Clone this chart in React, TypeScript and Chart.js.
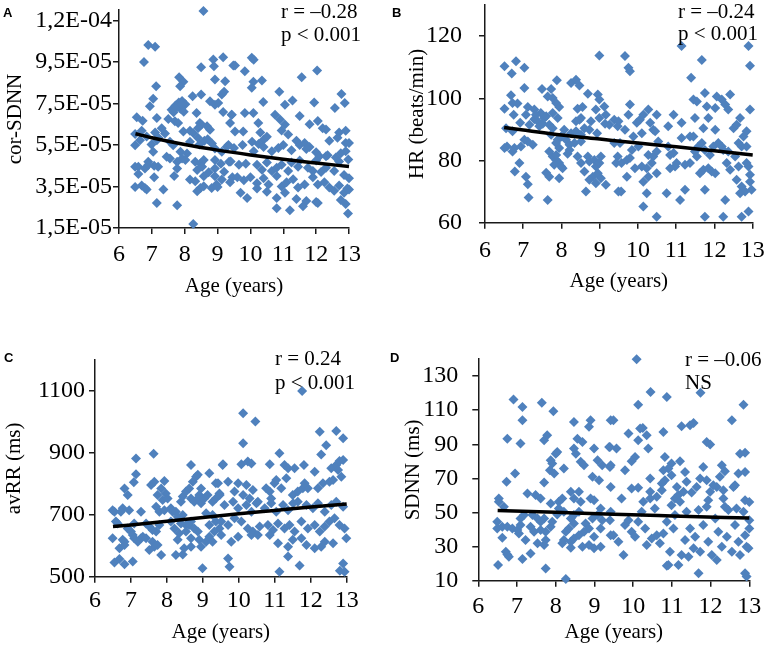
import React, { useEffect, useRef } from 'react';
import { Chart, registerables } from 'chart.js';

Chart.register(...registerables);

const SERIF = '"Liberation Serif", "Times New Roman", serif';
const SANS = '"Liberation Sans", Arial, sans-serif';

const AGE_TICKS = [6, 7, 8, 9, 10, 11, 12, 13];

// ---------- Panel A: cor-SDNN (values in units of 1E-05) ----------
const A_Y_TICKS = [1.5, 3.5, 5.5, 7.5, 9.5, 11.5];
const A_Y_LABELS = ['1,5E-05', '3,5E-05', '5,5E-05', '7,5E-05', '9,5E-05', '1,2E-04'];
const A_POINTS: [number, number][] = [
  [8.57, 11.95], [6.89, 10.31], [7.10, 10.23], [6.76, 9.50], [8.50, 9.24], [8.87, 9.62], [9.17, 9.73], [8.89, 9.29], [9.48, 9.33],
  [7.83, 8.76], [7.96, 8.54], [7.86, 8.33], [7.13, 8.33], [8.92, 8.65], [9.23, 8.57], [7.04, 7.72], [6.94, 7.36], [8.24, 7.84], [8.50, 7.93], [9.13, 7.93], [9.20, 8.06], [8.77, 7.60], [8.92, 7.44], [9.02, 7.52],
  [7.60, 7.20], [7.72, 7.40], [7.82, 7.55], [7.92, 7.62], [8.02, 7.46], [7.87, 7.24], [7.66, 7.08], [7.97, 7.10], [7.75, 7.30], [7.90, 7.45],
  [6.54, 6.83], [6.72, 6.67], [7.15, 6.80], [7.50, 6.75], [7.70, 6.64], [7.80, 6.56], [8.36, 7.04], [8.46, 6.56], [8.51, 6.48], [8.41, 6.32], [8.68, 6.40], [8.77, 6.23], [9.17, 7.09], [9.43, 6.96], [9.38, 6.56],
  [6.49, 6.03], [6.69, 6.19], [6.84, 5.91], [7.10, 6.10], [7.20, 5.85], [7.40, 6.05], [7.30, 6.30], [7.96, 6.15], [8.16, 6.19], [8.26, 6.07], [8.40, 5.85], [8.45, 5.52], [8.60, 5.70], [8.70, 5.78],
  [6.49, 5.49], [6.64, 5.73], [6.99, 5.52], [7.15, 5.73], [7.55, 5.65], [7.65, 5.49], [7.87, 5.17], [8.07, 5.09], [7.92, 4.85], [8.16, 5.65], [8.83, 5.57], [8.92, 5.33], [9.13, 5.17], [9.28, 5.41],
  [7.04, 5.17], [6.89, 4.69], [7.45, 4.93], [7.55, 4.85], [6.49, 4.45], [6.59, 4.45], [6.79, 4.37], [6.89, 4.53], [7.19, 4.45], [7.07, 4.50], [7.77, 4.69], [8.02, 4.77], [7.77, 4.37], [8.32, 4.69], [8.48, 4.61], [8.58, 4.77], [8.38, 4.29], [8.53, 4.45], [8.92, 4.77], [8.92, 4.37], [9.10, 4.60], [9.20, 4.21], [9.35, 4.69], [9.45, 3.95], [9.38, 3.70],
  [6.59, 4.10], [7.07, 3.94], [7.68, 4.00], [8.16, 3.83], [8.32, 3.75], [8.58, 3.99], [8.73, 4.18], [8.92, 3.99], [8.97, 3.59], [9.13, 3.83],
  [6.49, 3.47], [6.69, 3.55], [6.79, 3.43], [6.84, 3.35], [7.35, 3.35], [8.48, 3.43], [8.58, 3.51], [8.38, 3.27], [8.82, 3.43], [9.00, 3.47], [7.15, 2.70], [7.77, 2.60], [8.26, 1.69],
  [10.04, 9.70], [10.10, 9.60], [9.53, 9.33], [9.83, 9.05], [10.09, 8.54], [10.35, 8.60], [10.04, 8.25], [11.56, 8.76], [12.03, 9.08], [10.88, 8.06], [10.39, 7.57], [11.05, 7.44], [11.28, 7.64], [11.94, 7.55], [12.77, 7.96], [12.87, 7.52], [12.57, 7.28],
  [9.43, 6.96], [9.83, 7.04], [10.09, 7.04], [10.24, 6.56], [10.75, 6.96], [10.90, 6.72], [11.05, 6.48], [11.50, 6.90], [11.80, 6.50], [12.05, 6.65], [12.20, 6.30], [12.30, 6.25], [12.70, 6.10], [12.90, 6.18],
  [9.53, 6.15], [9.78, 6.15], [10.30, 6.10], [10.50, 5.90], [10.40, 5.75], [10.95, 6.20], [11.15, 6.00], [11.40, 5.70], [11.50, 5.50], [11.65, 5.60], [11.80, 5.40], [12.40, 5.70], [12.65, 5.85], [12.90, 5.60], [12.90, 5.20], [12.75, 5.10],
  [9.33, 5.50], [9.50, 5.35], [9.76, 5.50], [10.05, 5.65], [10.10, 5.20], [10.25, 5.55], [10.40, 5.40], [10.65, 5.20], [10.85, 5.35], [11.00, 5.50], [11.25, 5.25], [11.70, 5.30], [12.00, 5.15], [12.10, 4.95], [12.35, 5.00], [12.60, 4.90], [12.98, 4.80],
  [9.40, 4.70], [9.65, 4.55], [9.86, 4.60], [10.20, 4.55], [10.35, 4.30], [10.50, 4.65], [10.65, 4.25], [10.80, 4.40], [10.95, 4.55], [11.15, 4.25], [11.25, 4.65], [11.45, 4.45], [11.50, 4.75], [11.75, 4.40], [11.90, 4.25], [12.00, 4.75], [12.15, 4.20], [12.30, 4.40], [12.55, 4.25], [12.70, 4.70], [12.85, 4.05],
  [9.60, 3.95], [9.80, 3.80], [10.00, 3.95], [10.20, 3.65], [10.40, 3.90], [10.55, 3.60], [10.80, 4.00], [10.95, 3.50], [11.10, 3.70], [11.30, 3.85], [11.45, 3.45], [11.65, 3.60], [11.90, 3.95], [12.05, 3.60], [12.25, 3.70], [12.40, 3.45], [12.55, 3.30], [12.70, 3.55], [12.85, 3.20],
  [9.70, 3.20], [9.90, 2.95], [10.20, 3.40], [10.50, 3.25], [10.80, 2.95], [11.05, 3.20], [11.40, 2.90], [11.70, 2.80], [12.05, 2.70], [12.75, 2.85], [12.90, 2.65], [12.95, 3.40], [10.80, 2.45], [11.20, 2.35], [11.60, 2.55], [12.97, 2.20], [12.00, 2.75], [13.00, 3.35], [13.00, 3.90], [13.00, 5.60], [12.30, 4.95],
];
const A_TREND: [number, number][] = [
  [6.5, 6.04], [7, 5.85], [8, 5.52], [9, 5.25], [10, 5.02], [11, 4.81], [12, 4.63], [13, 4.46],
];

// ---------- Panel B: HR (beats/min) ----------
const B_Y_TICKS = [60, 80, 100, 120];
const B_POINTS: [number, number][] = [
  [6.51, 110.3], [6.81, 111.9], [7.03, 109.8], [6.70, 108.0], [7.03, 103.3], [6.68, 101.0], [6.51, 96.6], [6.72, 98.5], [6.85, 98.3], [6.75, 94.7],
  [7.12, 97.2], [7.29, 96.4], [7.07, 94.7], [6.92, 92.1], [6.55, 90.4], [6.72, 89.4], [6.575, 84.5], [6.51, 84.0], [6.77, 84.0], [6.72, 82.9], [6.94, 84.5],
  [6.90, 79.2], [6.78, 76.5], [7.07, 74.8], [7.12, 72.4], [7.14, 68.1], [7.16, 91.5], [7.29, 93.3], [7.38, 92.6], [7.42, 91.0], [7.51, 91.8], [7.55, 93.7], [7.46, 95.3], [7.33, 94.7],
  [7.12, 86.1], [7.25, 85.1], [7.03, 86.7], [7.49, 103.0], [7.73, 103.0], [7.64, 100.6], [7.77, 100.1], [7.88, 105.8], [7.86, 98.5], [7.94, 97.2], [7.77, 95.3], [7.60, 94.2], [7.90, 93.7],
  [7.68, 91.5], [7.77, 90.4], [7.73, 88.3], [7.90, 86.7], [7.86, 85.6], [7.94, 84.0], [7.68, 82.9], [7.77, 81.3], [7.86, 80.2], [7.94, 79.2], [7.99, 78.1], [7.81, 78.6],
  [7.60, 76.1], [7.68, 74.8], [7.94, 74.3], [7.64, 67.3], [8.25, 104.9], [8.38, 106.0], [8.47, 104.1], [8.69, 101.5], [8.42, 96.6], [8.55, 97.2], [8.95, 101.2], [8.99, 99.6],
  [8.07, 89.9], [8.25, 88.8], [8.38, 89.4], [8.51, 88.3], [8.60, 90.4], [8.47, 93.1], [8.51, 93.7], [8.38, 92.6], [8.77, 92.6], [8.90, 96.4], [9.12, 97.4], [9.16, 94.7], [8.99, 93.7], [9.14, 91.8], [8.93, 88.8],
  [7.99, 87.7], [8.12, 86.7], [8.21, 85.1], [8.34, 85.6], [8.51, 86.1], [8.73, 89.9], [7.86, 81.8], [8.16, 82.2], [8.42, 81.3], [8.51, 79.2], [8.69, 81.3], [8.60, 76.5], [8.03, 77.5], [8.21, 83.4],
  [8.73, 79.7], [8.86, 80.2], [8.90, 78.1], [8.99, 79.2], [9.03, 81.3], [8.82, 74.8], [8.90, 72.7], [8.95, 75.9], [9.03, 74.3], [8.73, 73.8], [8.64, 70.0], [8.99, 113.8],
  [9.25, 91.5], [9.38, 93.1], [9.47, 91.0], [9.38, 85.6], [9.47, 81.3], [9.43, 79.2], [9.16, 72.2], [9.56, 70.0],
  [9.66, 113.6], [9.75, 109.8], [9.79, 108.7], [11.14, 116.8], [11.67, 112.3], [11.39, 106.6], [12.89, 116.8], [12.93, 110.5], [11.75, 101.7],
  [9.79, 98.0], [10.27, 96.4], [10.49, 94.7], [10.93, 94.7], [11.45, 99.6], [11.54, 99.0], [11.80, 97.4], [12.02, 96.9], [12.06, 100.6], [12.19, 99.6], [12.41, 101.2], [12.28, 98.0], [12.36, 96.4], [12.93, 96.4],
  [9.49, 92.6], [9.75, 94.7], [9.97, 92.1], [10.05, 93.1], [10.14, 94.7], [10.32, 92.1], [10.40, 89.9], [10.79, 91.0], [11.14, 92.1], [11.49, 93.7], [11.71, 90.4], [11.45, 87.7], [11.84, 93.7], [12.02, 89.9],
  [12.50, 90.4], [12.67, 93.7], [12.84, 89.4], [12.58, 91.5], [12.76, 87.7], [12.71, 84.5],
  [9.66, 89.9], [9.88, 87.7], [10.10, 88.8], [10.45, 89.4], [10.53, 86.1], [9.53, 85.6], [9.84, 83.4], [10.01, 84.5], [10.27, 81.8], [10.40, 81.3], [10.49, 82.9], [10.79, 84.5], [10.84, 81.8], [10.93, 82.4],
  [11.14, 87.2], [11.36, 87.7], [11.49, 82.9], [11.58, 84.5], [11.67, 85.6], [11.75, 83.4], [11.88, 81.8], [11.97, 84.5], [12.10, 85.6], [12.19, 84.5], [12.23, 83.4], [12.36, 82.9], [12.54, 81.3], [12.63, 85.6], [12.84, 84.5],
  [9.57, 79.2], [9.71, 80.2], [9.79, 80.8], [9.92, 77.5], [10.10, 78.1], [10.23, 77.5], [10.36, 79.2], [10.84, 77.5], [10.97, 78.1], [11.01, 79.2], [11.23, 78.6], [11.36, 79.2], [11.54, 81.3],
  [11.62, 75.9], [11.71, 77.0], [11.84, 77.5], [11.93, 76.5], [12.02, 75.9], [12.32, 79.2], [12.41, 77.0], [12.63, 78.1], [12.84, 79.2], [12.89, 78.1], [12.93, 75.4], [10.49, 75.9], [9.71, 74.8], [10.27, 74.8],
  [10.14, 73.2], [12.58, 73.8], [12.71, 71.6], [12.80, 70.0], [9.49, 70.0], [10.23, 69.5], [10.75, 69.5], [11.23, 70.6], [11.75, 70.6], [12.67, 69.5], [12.93, 73.2], [12.97, 70.6],
  [11.10, 67.3], [12.28, 67.3], [10.14, 65.2], [10.49, 61.9], [11.75, 61.9], [12.23, 61.9], [12.71, 61.9], [12.89, 63.6],
];
const B_TREND: [number, number][] = [
  [6.5, 90.6], [7, 89.8], [8, 88.2], [9, 86.9], [10, 85.6], [11, 84.4], [12, 83.1], [13, 81.8],
];

// ---------- Panel C: avRR (ms) ----------
const C_Y_TICKS = [500, 700, 900, 1100];
const C_POINTS: [number, number][] = [
  [7.14, 882], [7.63, 897], [7.14, 831], [7.08, 805], [6.82, 785], [6.91, 764],
  [6.49, 715], [6.54, 710], [6.77, 721], [6.72, 710], [6.95, 715], [6.58, 678], [6.63, 672], [6.91, 656], [7.00, 646], [7.09, 672], [7.28, 710],
  [6.49, 624], [6.77, 619], [6.82, 613], [6.68, 592], [6.82, 602], [7.05, 635], [7.09, 624], [7.19, 613], [7.28, 624],
  [6.54, 546], [6.68, 557], [6.82, 540], [7.05, 549], [7.56, 796], [7.65, 807], [7.93, 809], [7.84, 785],
  [7.74, 764], [7.97, 769], [7.88, 748], [8.02, 753], [7.70, 726], [7.79, 710], [7.93, 715], [8.11, 721],
  [7.42, 672], [7.51, 662], [7.60, 651], [7.70, 646], [7.79, 667], [7.33, 629], [7.42, 624], [7.60, 613], [7.65, 597], [7.74, 602], [7.84, 570], [7.51, 586],
  [8.16, 710], [8.25, 710], [8.30, 694], [8.44, 699], [8.53, 667], [8.11, 678], [8.21, 656], [8.34, 640], [8.39, 672], [8.53, 646], [8.62, 667], [8.30, 619],
  [8.25, 570], [8.44, 572], [8.48, 592], [8.67, 597], [8.39, 742], [8.44, 759], [8.53, 775], [8.62, 785],
  [8.72, 807], [8.81, 823], [8.86, 829], [8.95, 785], [8.90, 764], [8.67, 753], [8.67, 861], [9.18, 834], [9.36, 802],
  [8.76, 742], [8.86, 753], [8.95, 737], [9.04, 753], [9.13, 764], [9.27, 742], [9.36, 753], [9.46, 769],
  [8.67, 678], [8.76, 656], [8.86, 646], [9.09, 705], [9.18, 667], [9.27, 699], [9.36, 678], [9.46, 656],
  [8.67, 624], [8.90, 619], [8.95, 597], [9.09, 613], [9.18, 629], [9.27, 613], [9.32, 646], [8.99, 527], [9.55, 861],
  [11.76, 1100], [10.12, 1028], [10.46, 1001], [10.12, 931], [11.13, 899], [12.25, 968], [12.71, 971], [12.90, 947], [12.43, 925], [12.29, 895],
  [9.56, 863], [10.07, 863], [10.25, 872], [10.35, 866], [10.86, 863], [11.27, 861], [11.37, 850], [11.55, 850], [11.81, 861],
  [12.11, 839], [12.57, 850], [12.71, 861], [12.80, 874], [12.90, 877], [9.42, 802], [9.70, 807], [9.98, 802], [10.21, 796], [9.47, 764],
  [9.88, 775], [10.12, 764], [10.30, 753], [10.39, 780], [10.53, 742], [10.76, 786], [10.86, 775], [10.90, 753], [10.99, 802], [11.04, 812], [11.18, 786],
  [11.32, 818], [11.50, 764], [11.64, 775], [11.78, 786], [11.92, 786], [11.83, 802], [12.20, 786], [12.34, 802], [12.52, 807], [12.62, 812], [12.76, 845], [12.85, 823],
  [9.60, 732], [9.84, 742], [9.98, 721], [10.21, 732], [10.35, 710], [10.49, 737], [10.72, 721], [10.90, 737], [11.04, 710], [11.23, 732], [11.37, 715], [11.51, 737],
  [11.64, 742], [11.88, 732], [12.06, 721], [12.20, 737], [12.39, 710], [12.57, 732], [12.71, 742], [12.90, 726],
  [9.51, 678], [9.70, 667], [9.88, 689], [10.07, 678], [10.25, 656], [10.39, 646], [10.58, 662], [10.81, 667], [10.95, 651], [11.09, 672], [11.27, 656], [11.41, 667], [11.55, 646],
  [11.74, 678], [11.92, 656], [12.11, 667], [12.25, 646], [12.39, 662], [12.52, 678], [12.66, 689], [12.80, 667], [12.94, 656],
  [9.51, 635], [9.79, 613], [9.98, 629], [10.35, 635], [10.53, 635], [10.86, 635], [11.09, 608], [11.37, 597], [11.50, 619], [11.74, 624], [11.88, 602], [12.11, 592], [12.29, 597], [12.39, 613], [12.62, 608], [12.99, 624],
  [9.70, 559], [9.74, 532], [11.37, 565], [11.69, 536], [11.13, 516], [12.90, 543], [12.94, 516], [12.81, 519],
];
const C_TREND: [number, number][] = [
  [6.5, 662], [7, 667], [8, 679], [9, 691], [10, 703], [11, 714], [12, 725], [13, 735],
];

// ---------- Panel D: SDNN (ms) ----------
const D_Y_TICKS = [10, 30, 50, 70, 90, 110, 130];
const D_POINTS: [number, number][] = [
  [6.91, 116.3], [7.14, 111.9], [7.64, 114.4], [7.94, 109.3], [7.14, 104.1], [6.75, 93.3], [7.09, 90.4], [7.70, 92.3], [7.78, 95.3],
  [8.00, 84.5], [8.04, 85.5], [7.87, 80.6], [7.91, 78.7], [7.96, 72.8], [7.85, 74.8], [6.95, 72.8], [6.73, 68.0], [7.70, 67.6],
  [7.27, 61.1], [7.48, 60.2], [7.61, 58.2], [6.53, 58.2], [6.53, 56.3], [6.66, 53.3], [7.87, 55.3], [8.08, 56.3], [8.17, 58.2], [8.08, 52.4], [8.21, 50.4], [8.04, 48.8],
  [7.09, 46.5], [7.18, 48.5], [7.40, 48.5], [7.53, 46.5], [7.70, 46.5], [7.61, 44.5], [6.49, 44.5], [6.49, 40.6], [6.62, 41.6], [6.75, 41.6], [6.88, 40.6], [7.01, 39.7], [7.09, 42.6], [7.05, 37.7],
  [7.35, 41.6], [7.44, 38.7], [7.61, 39.7], [7.74, 38.7], [7.87, 41.6], [7.91, 44.5], [7.74, 33.8], [7.70, 30.9], [7.53, 31.9], [7.22, 33.8], [6.62, 35.2],
  [6.71, 27.0], [6.75, 25.4], [6.79, 24.0], [7.14, 22.7], [7.35, 26.0], [6.51, 19.2], [7.74, 17.2], [8.26, 11.0],
  [8.39, 62.1], [8.60, 62.1], [8.47, 58.2], [8.645, 56.3], [8.21, 75.8], [8.52, 84.5], [8.47, 87.5], [8.645, 79.7], [8.73, 77.7], [8.47, 103.1], [8.56, 93.3], [8.69, 91.4],
  [8.90, 104.1], [8.86, 100.2], [8.99, 87.5], [9.08, 80.6], [9.20, 77.7], [9.12, 68.9], [8.95, 70.9], [8.90, 58.2], [8.99, 57.2], [9.16, 52.4], [8.95, 46.5], [9.20, 45.5],
  [8.99, 35.8], [8.86, 30.9], [8.99, 29.0], [9.16, 29.9], [9.42, 104.1], [9.38, 88.4], [9.42, 77.7], [9.42, 65.0], [9.42, 50.4], [9.42, 36.7], [9.16, 40.6], [9.08, 48.5],
  [8.77, 43.6], [8.73, 38.7], [8.86, 40.6], [8.60, 36.7], [8.39, 29.3], [8.69, 29.9], [8.21, 33.8], [8.17, 31.9], [8.39, 32.9], [8.47, 34.8], [8.26, 38.7], [8.34, 40.6], [8.47, 43.6], [8.39, 46.5], [8.47, 48.5], [8.60, 50.4],
  [10.09, 139.8], [10.45, 120.6], [10.87, 117.7], [11.74, 120.2], [10.13, 113.2], [12.85, 113.2], [9.49, 104.1], [12.55, 104.1],
  [11.25, 100.5], [11.47, 101.1], [11.56, 102.5], [9.88, 96.3], [10.18, 99.2], [10.25, 99.6], [10.35, 95.3], [10.78, 97.2],
  [10.13, 92.3], [10.39, 87.5], [9.57, 87.5], [9.40, 88.4], [11.90, 91.4], [11.99, 89.8], [12.76, 84.5], [12.89, 85.1],
  [10.05, 82.6], [9.96, 80.1], [10.82, 82.6], [11.21, 80.1], [9.79, 74.8], [9.40, 76.7], [10.99, 78.7], [10.91, 75.8], [10.78, 74.8], [11.81, 76.7], [12.29, 77.7], [12.37, 74.2], [12.72, 72.8], [12.89, 73.8],
  [10.44, 69.9], [10.82, 68.9], [10.74, 67.0], [11.34, 73.8], [11.38, 68.0], [11.73, 69.9], [11.90, 68.9], [12.24, 70.9],
  [9.96, 64.1], [10.13, 64.5], [9.70, 58.2], [10.44, 62.1], [10.74, 63.1], [11.08, 58.2], [11.17, 60.2], [11.30, 62.1], [11.51, 61.7], [11.94, 57.2], [12.16, 65.0], [12.07, 66.0], [12.33, 63.1], [12.63, 66.0], [12.59, 65.0], [12.89, 57.2],
  [10.61, 59.2], [11.13, 65.0], [11.64, 65.0], [10.99, 71.9], [11.99, 62.1], [12.33, 58.2],
  [9.40, 45.5], [9.49, 36.7], [9.62, 32.8], [9.75, 25.0], [9.79, 42.6], [9.88, 45.5], [9.96, 38.7], [10.05, 35.8], [10.13, 44.5], [10.22, 50.4], [10.26, 56.3], [10.31, 40.6], [10.35, 30.9],
  [10.44, 58.2], [10.48, 34.8], [10.56, 52.4], [10.61, 36.7], [10.69, 31.9], [10.78, 37.7], [10.87, 44.5], [10.91, 19.2], [10.95, 27.0], [10.99, 54.3], [11.04, 40.6], [11.08, 48.5],
  [11.17, 19.2], [11.21, 56.3], [11.25, 25.0], [11.34, 33.8], [11.38, 50.4], [11.47, 40.6], [11.56, 29.0], [11.60, 35.8], [11.69, 51.4], [11.69, 14.3], [11.73, 27.0], [11.81, 42.6],
  [11.90, 53.3], [11.94, 32.8], [12.03, 25.0], [12.12, 46.5], [12.20, 38.7], [12.29, 29.9], [12.37, 53.3], [12.42, 35.8], [12.46, 51.4], [12.55, 27.0], [12.63, 42.6], [12.67, 52.4],
  [12.72, 32.8], [12.76, 25.0], [12.85, 50.4], [12.89, 36.7], [12.89, 14.3], [12.93, 29.9], [12.93, 12.4], [10.87, 18.8], [12.16, 22.1], [11.43, 24.1],
  [13.00, 56.2], [13.00, 45.5], [13.00, 40.6], [12.98, 29.0],
];
const D_TREND: [number, number][] = [
  [6.5, 51.2], [8, 50.1], [9.5, 49.0], [11, 48.0], [13, 46.7],
];

type Panel = {
  letter: string;
  left: number; top: number; width: number; height: number;
  yAxisW: number; xAxisH: number; padTop: number; padRight: number;
  yMin: number; yMax: number; yTicks: number[]; yLabels: string[] | null;
  yTitle: string; yTitlePad: number; yTickPad: number;
  xTickPad: number; xTitlePad: number;
  points: [number, number][]; trend: [number, number][];
  notes: string[]; noteX: number; noteY: number[];
  letterX: number; letterY: number;
};

const PANELS: Panel[] = [
  {
    letter: 'A', left: 0, top: 0, width: 380, height: 300,
    yAxisW: 119, xAxisH: 72, padTop: 10, padRight: 31,
    yMin: 1.5, yMax: 12.0, yTicks: A_Y_TICKS, yLabels: A_Y_LABELS,
    yTitle: 'cor-SDNN', yTitlePad: 3, yTickPad: 1,
    xTickPad: 6, xTitlePad: 1,
    points: A_POINTS, trend: A_TREND,
    notes: ['r = \u20130.28', 'p < 0.001'], noteX: 281, noteY: [12, 35],
    letterX: 3, letterY: 17,
  },
  {
    letter: 'B', left: 380, top: 0, width: 384, height: 300,
    yAxisW: 105, xAxisH: 77.3, padTop: 5, padRight: 11.3,
    yMin: 60, yMax: 130, yTicks: B_Y_TICKS, yLabels: null,
    yTitle: 'HR (beats/min)', yTitlePad: 25, yTickPad: 17,
    xTickPad: 8, xTitlePad: 6,
    points: B_POINTS, trend: B_TREND,
    notes: ['r = \u20130.24', 'p < 0.001'], noteX: 298, noteY: [12, 34],
    letterX: 12, letterY: 17,
  },
  {
    letter: 'C', left: 0, top: 320, width: 380, height: 326,
    yAxisW: 95, xAxisH: 69.3, padTop: 40, padRight: 33.3,
    yMin: 500, yMax: 1200, yTicks: C_Y_TICKS, yLabels: null,
    yTitle: 'avRR (ms)', yTitlePad: 2, yTickPad: 4,
    xTickPad: 4, xTitlePad: 1,
    points: C_POINTS, trend: C_TREND,
    notes: ['r = 0.24', 'p < 0.001'], noteX: 275, noteY: [39, 63],
    letterX: 4, letterY: 42,
  },
  {
    letter: 'D', left: 380, top: 320, width: 384, height: 326,
    yAxisW: 98.3, xAxisH: 65.3, padTop: 39, padRight: 14.7,
    yMin: 10, yMax: 140, yTicks: D_Y_TICKS, yLabels: null,
    yTitle: 'SDNN (ms)', yTitlePad: 21, yTickPad: 14,
    xTickPad: 6, xTitlePad: 1,
    points: D_POINTS, trend: D_TREND,
    notes: ['r = \u20130.06', 'NS'], noteX: 305, noteY: [40, 63],
    letterX: 10, letterY: 42,
  },
];

const AXIS_COLOR = '#1a1a1a';
const MARKER_COLOR = '#4F81BD';

function PanelChart({ p }: { p: Panel }) {
  const ref = useRef<HTMLCanvasElement | null>(null);
  useEffect(() => {
    if (!ref.current) return;
    const textPlugin = {
      id: 'panelText',
      afterDraw(chart: any) {
        const ctx = chart.ctx;
        ctx.save();
        ctx.fillStyle = '#000';
        ctx.font = `bold 13px ${SANS}`;
        ctx.textAlign = 'left';
        ctx.textBaseline = 'alphabetic';
        ctx.fillText(p.letter, p.letterX, p.letterY);
        ctx.font = `21px ${SERIF}`;
        ctx.textBaseline = 'middle';
        p.notes.forEach((t, i) => ctx.fillText(t, p.noteX, p.noteY[i]));
        ctx.restore();
      },
    };
    const chart = new Chart(ref.current, {
      type: 'scatter',
      data: {
        datasets: [
          {
            data: p.trend.map(([x, y]) => ({ x, y })),
            showLine: true,
            borderColor: '#000',
            borderWidth: 3.5,
            pointRadius: 0,
            cubicInterpolationMode: 'monotone',
            fill: false,
            clip: false,
          } as any,
          {
            data: p.points.map(([x, y]) => ({ x, y })),
            showLine: false,
            pointStyle: 'rectRot',
            pointRadius: 5,
            pointBackgroundColor: MARKER_COLOR,
            pointBorderWidth: 0,
            clip: false,
          } as any,
        ],
      },
      options: {
        responsive: true,
        maintainAspectRatio: false,
        animation: false,
        events: [],
        layout: { padding: { left: 0, right: p.padRight, top: p.padTop, bottom: 0 } },
        plugins: { legend: { display: false }, tooltip: { enabled: false } },
        scales: {
          x: {
            type: 'linear',
            min: 6,
            max: 13,
            afterBuildTicks: (axis: any) => {
              axis.ticks = AGE_TICKS.map((v) => ({ value: v }));
            },
            afterFit: (s: any) => {
              s.height = p.xAxisH;
              s.paddingLeft = 0; s.paddingRight = 0; s.paddingTop = 0; s.paddingBottom = 0;
            },
            ticks: {
              font: { family: SERIF, size: 24 },
              color: '#000',
              padding: p.xTickPad,
              maxRotation: 0,
              autoSkip: false,
            },
            grid: { drawOnChartArea: false, drawTicks: true, tickLength: 6, color: AXIS_COLOR, lineWidth: 1.5 },
            border: { display: true, color: AXIS_COLOR, width: 1.5 },
            title: {
              display: true,
              text: 'Age (years)',
              color: '#000',
              font: { family: SERIF, size: 21 },
              padding: { top: 0, bottom: p.xTitlePad },
            },
          },
          y: {
            type: 'linear',
            min: p.yMin,
            max: p.yMax,
            afterBuildTicks: (axis: any) => {
              axis.ticks = p.yTicks.map((v) => ({ value: v }));
            },
            afterFit: (s: any) => {
              s.width = p.yAxisW;
              s.paddingLeft = 0; s.paddingRight = 0; s.paddingTop = 0; s.paddingBottom = 0;
            },
            ticks: {
              font: { family: SERIF, size: 24 },
              color: '#000',
              padding: p.yTickPad,
              autoSkip: false,
              callback: (value: any, index: number) => (p.yLabels ? p.yLabels[index] : String(value)),
            },
            grid: { drawOnChartArea: false, drawTicks: true, tickLength: 6, color: AXIS_COLOR, lineWidth: 1.5 },
            border: { display: true, color: AXIS_COLOR, width: 1.5 },
            title: {
              display: true,
              text: p.yTitle,
              color: '#000',
              font: { family: SERIF, size: 21 },
              padding: { top: p.yTitlePad, bottom: 0 },
            },
          },
        },
      },
      plugins: [textPlugin],
    });
    return () => chart.destroy();
  }, [p]);

  return (
    <div style={{ position: 'absolute', left: p.left, top: p.top, width: p.width, height: p.height }}>
      <canvas ref={ref} />
    </div>
  );
}

export default function App() {
  return (
    <div style={{ position: 'fixed', left: 0, top: 0, width: 764, height: 646, background: '#fff', overflow: 'hidden' }}>
      {PANELS.map((p) => (
        <PanelChart key={p.letter} p={p} />
      ))}
    </div>
  );
}
